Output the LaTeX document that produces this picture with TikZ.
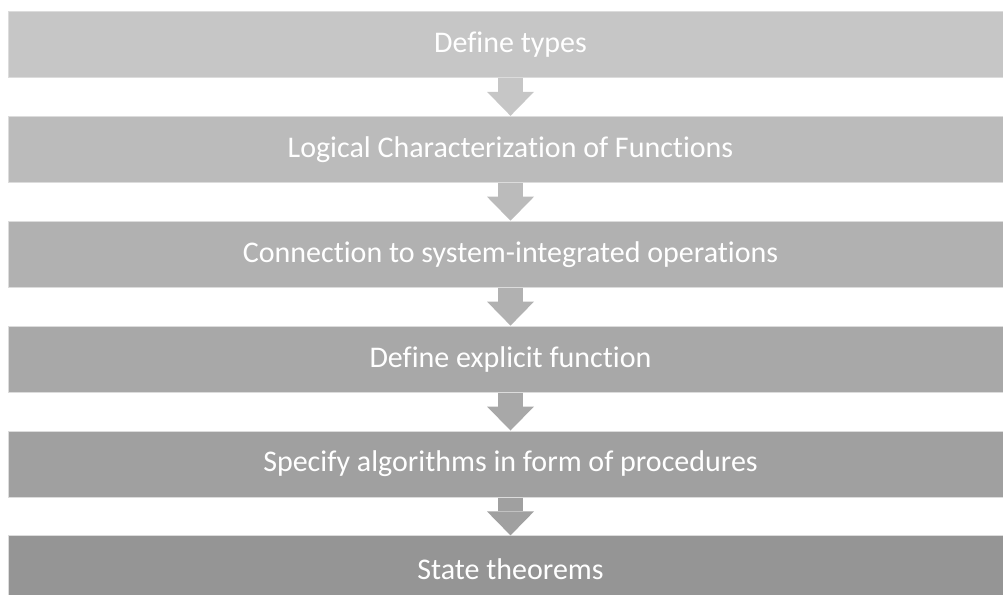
\documentclass[tikz,border=0pt]{standalone}
\usepackage{fontspec}
\setmainfont{Carlito}[Ligatures=NoCommon]
\usetikzlibrary{arrows.meta, positioning}
\definecolor{StepGrayA}{HTML}{C6C6C6}
\definecolor{StepGrayB}{HTML}{BBBBBB}
\definecolor{StepGrayC}{HTML}{B1B1B1}
\definecolor{StepGrayD}{HTML}{A8A8A8}
\definecolor{StepGrayE}{HTML}{A0A0A0}
\definecolor{StepGrayF}{HTML}{959595}
\definecolor{EdgeGray}{HTML}{DCDCDC}
\tikzset{
  stepbar/.style={draw=EdgeGray, line width=0.6pt, minimum width=753.75pt, minimum height=49.8pt, inner sep=0pt, text=white, font=\fontsize{22.5}{27}\selectfont},
  flowarrow/.style={line width=18.75pt, -{Triangle[width=35.25pt, length=18pt, line width=0pt]}}
}

\begin{document}
\begin{tikzpicture}[x=0.75pt, y=-0.75pt]
\useasboundingbox (0,0) rectangle (1003,594);
\node[stepbar, fill=StepGrayA] (types) at (510.5,44.5) {Define types};
\node[stepbar, fill=StepGrayB] (logic) at (510.5,149.4) {Logical Characterization of Functions};
\node[stepbar, fill=StepGrayC] (conn) at (510.5,254.3) {Connection to system-integrated operations};
\node[stepbar, fill=StepGrayD] (explicit) at (510.5,359.2) {Define explicit function};
\node[stepbar, fill=StepGrayE] (algo) at (510.5,464.1) {Specify algorithms in form of procedures};
\node[stepbar, fill=StepGrayF] (theorems) at (510.5,569.0) {State theorems};
% block arrows between the steps
\draw[flowarrow, StepGrayA] (types.south) -- (logic.north);
\draw[flowarrow, StepGrayB] (logic.south) -- (conn.north);
\draw[flowarrow, StepGrayC] (conn.south) -- (explicit.north);
\draw[flowarrow, StepGrayD] (explicit.south) -- (algo.north);
\draw[flowarrow, StepGrayE] (algo.south) -- (theorems.north);
\end{tikzpicture}
\end{document}
